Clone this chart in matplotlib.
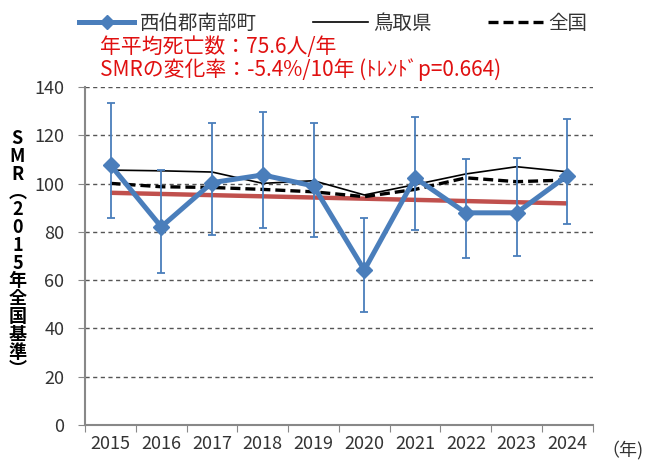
import matplotlib
matplotlib.use("Agg")
import matplotlib.pyplot as plt
from matplotlib.lines import Line2D

plt.rcParams['font.family'] = ['Noto Sans CJK JP', 'DejaVu Sans']

# data
years = ["2015", "2016", "2017", "2018", "2019", "2020", "2021", "2022", "2023", "2024"]
town_smr = [107.7, 82.1, 100.4, 103.6, 99.0, 64.2, 102.4, 87.9, 87.9, 103.3]
town_upper = [133.5, 105.6, 125.2, 129.5, 125.2, 85.9, 127.4, 110.4, 110.7, 126.6]
town_lower = [85.9, 63.1, 78.6, 81.7, 77.9, 46.7, 80.6, 69.3, 69.9, 83.4]
tottori_smr = [105.6, 105.3, 104.8, 100.1, 101.2, 95.3, 99.6, 104.0, 107.0, 104.9]
national_smr = [100.1, 98.7, 98.4, 97.6, 96.6, 94.6, 97.6, 102.4, 100.8, 101.5]
trend_ends = [96.2, 91.8]  # red trend line, first and last year

blue = "#4a7ebb"
red = "#c0504d"
txt = "#333333"

fig = plt.figure(figsize=(6.45, 4.63), dpi=100)
ax = fig.add_axes([0.132, 0.082, 0.787, 0.730])

x = list(range(len(years)))
err_lo = [v - lo for v, lo in zip(town_smr, town_lower)]
err_hi = [hi - v for v, hi in zip(town_smr, town_upper)]

ax.plot([x[0], x[-1]], trend_ends, color=red, lw=3.2, zorder=2, solid_capstyle="butt")
ax.plot(x, tottori_smr, color="black", lw=1.2, zorder=3)
ax.plot(x, national_smr, color="black", lw=2.4, ls=(0, (3, 1.5)), zorder=3)
ax.errorbar(x, town_smr, yerr=[err_lo, err_hi], fmt="none", ecolor=blue,
            elinewidth=1.3, capsize=3.2, capthick=1.3, zorder=4)
ax.plot(x, town_smr, color=blue, lw=3.6, marker="D", markersize=8.5, zorder=5)

ax.set_xlim(-0.5, 9.5)
ax.set_ylim(0, 140)
ax.set_yticks(range(0, 141, 20))
ax.set_xticks([i - 0.5 for i in range(11)])
ax.set_xticklabels([])
ax.set_xticks(x, minor=True)
ax.set_xticklabels(years, minor=True)
ax.tick_params(axis="x", which="minor", length=0, pad=7, labelsize=13, colors=txt)
ax.tick_params(axis="x", which="major", length=5, direction="out", color="#888888")
ax.tick_params(axis="y", length=5, direction="out", color="#888888", pad=10,
               labelsize=13, labelcolor=txt)

ax.yaxis.grid(True, ls=(0, (3, 2.5)), color="#555555", lw=1.0)
ax.set_axisbelow(True)
for s in ["top", "right"]:
    ax.spines[s].set_visible(False)
for s in ["left", "bottom"]:
    ax.spines[s].set_color("#888888")
    ax.spines[s].set_linewidth(1.5)

fig.text(0.998, 0.028, "（年)", fontsize=13, ha="right", va="center", color=txt)

ylabel = "SMR︵2015年全国基準︶"
fig.text(0.027, 0.451, "\n".join(ylabel), fontsize=13, fontweight="bold",
         ha="center", va="center", linespacing=0.92)

handles = [
    Line2D([], [], color=blue, lw=3.6, marker="D", markersize=7),
    Line2D([], [], color="black", lw=1.2),
    Line2D([], [], color="black", lw=2.4, ls=(0, (3, 1.5))),
]
fig.legend(handles, ["西伯郡南部町", "鳥取県", "全国"], ncol=3, loc="center",
           bbox_to_anchor=(0.517, 0.950), frameon=False, fontsize=14,
           labelcolor=txt, handlelength=2.8, handletextpad=0.3, columnspacing=2.9)

fig.text(0.155, 0.899, "年平均死亡数：75.6人/年", fontsize=15, color="#e01010",
         ha="left", va="center")
fig.text(0.155, 0.849, "SMRの変化率：-5.4%/10年 (ﾄﾚﾝﾄﾞp=0.664)", fontsize=15,
         color="#e01010", ha="left", va="center")

fig.savefig("out.png", dpi=100)
